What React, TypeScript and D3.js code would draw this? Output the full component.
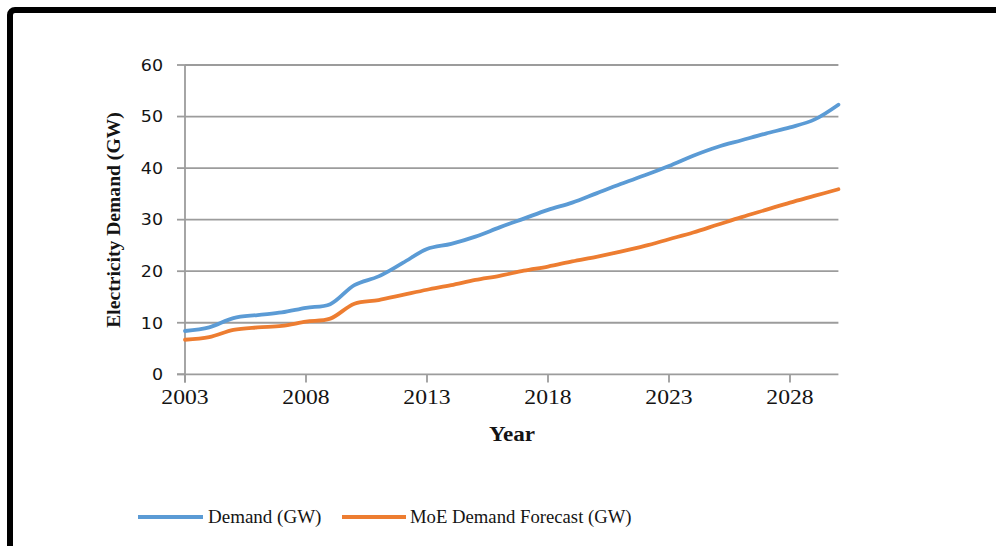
import React from "react";
import * as d3 from "d3";

const years = [2003, 2004, 2005, 2006, 2007, 2008, 2009, 2010, 2011, 2012, 2013, 2014, 2015, 2016, 2017, 2018, 2019, 2020, 2021, 2022, 2023, 2024, 2025, 2026, 2027, 2028, 2029, 2030];
const demand = [8.4, 9.1, 10.9, 11.5, 12.0, 12.9, 13.6, 17.3, 19.0, 21.6, 24.3, 25.3, 26.7, 28.5, 30.2, 31.9, 33.3, 35.1, 36.9, 38.6, 40.4, 42.4, 44.1, 45.4, 46.7, 47.9, 49.4, 52.3];
const forecast = [6.7, 7.2, 8.6, 9.1, 9.4, 10.2, 10.8, 13.7, 14.4, 15.4, 16.4, 17.3, 18.3, 19.1, 20.1, 20.9, 21.9, 22.8, 23.8, 24.9, 26.2, 27.5, 29.0, 30.5, 31.9, 33.3, 34.6, 35.9];
const xTicks = [2003, 2008, 2013, 2018, 2023, 2028];
const yTicks = [0, 10, 20, 30, 40, 50, 60];
const seriesNames = ["Demand (GW)", "MoE Demand Forecast (GW)"];
const colors = ["#5B9BD5", "#ED7D31"];

export default function App() {
  const W = 996, H = 546;
  const x = d3.scaleLinear().domain([2003, 2030]).range([185, 838.4]);
  const y = d3.scaleLinear().domain([0, 60]).range([374.3, 65]);
  const line = d3
    .line<number>()
    .x((_, i) => x(years[i]))
    .y((d) => y(d))
    .curve(d3.curveCatmullRom.alpha(0.5));
  const grid = "#9c9c9c";
  const ink = "#141414";
  const serif = "'Liberation Serif', 'Times New Roman', serif";
  const sans = "'DejaVu Sans', Verdana, sans-serif";
  return (
    <svg width={W} height={H} style={{ position: "absolute", left: 0, top: 0, background: "#fff" }}>
      <rect x={0} y={0} width={W} height={H} fill="#fff" />
      <rect x={10} y={10} width={1000} height={560} rx={5} fill="none" stroke="#000" strokeWidth={6} />
      {yTicks.map((t) => (
        <g key={"g" + t}>
          {t > 0 && <line x1={x(2003)} x2={x(2030)} y1={y(t)} y2={y(t)} stroke={grid} strokeWidth={1.8} />}
          <line x1={177} x2={x(2003)} y1={y(t)} y2={y(t)} stroke={grid} strokeWidth={1.8} />
          <g transform={`translate(163,${y(t) + 5.8}) scale(1.12,1)`}>
            <text textAnchor="end" fontFamily={sans} fontSize={15.6} fill={ink}>
              {t}
            </text>
          </g>
        </g>
      ))}
      <line x1={x(2003)} x2={x(2003)} y1={y(60)} y2={382.5} stroke={grid} strokeWidth={1.8} />
      <line x1={177} x2={x(2030)} y1={y(0)} y2={y(0)} stroke={grid} strokeWidth={1.8} />
      {xTicks.map((t) => (
        <g key={"x" + t}>
          <line x1={x(t)} x2={x(t)} y1={y(0)} y2={382.5} stroke={grid} strokeWidth={1.8} />
          <g transform={`translate(${x(t)},404) scale(1.1,1)`}>
            <text textAnchor="middle" fontFamily={serif} fontSize={21.5} fill={ink}>
              {t}
            </text>
          </g>
        </g>
      ))}
      <g transform={`translate(512,441) scale(1.1,1)`}>
        <text textAnchor="middle" fontFamily={serif} fontWeight="bold" fontSize={21} fill={ink}>
          Year
        </text>
      </g>
      <text
        transform={`translate(120,220) rotate(-90)`}
        textAnchor="middle"
        fontFamily={serif}
        fontWeight="bold"
        fontSize={19.6}
        fill={ink}
      >
        Electricity Demand (GW)
      </text>
      <path d={line(demand) || ""} fill="none" stroke={colors[0]} strokeWidth={3.8} strokeLinecap="round" />
      <path d={line(forecast) || ""} fill="none" stroke={colors[1]} strokeWidth={3.8} strokeLinecap="round" />
      <line x1={138} x2={203} y1={517} y2={517} stroke={colors[0]} strokeWidth={3.8} />
      <text x={208} y={523} fontFamily={serif} fontSize={19} fill={ink}>
        {seriesNames[0]}
      </text>
      <line x1={342} x2={406} y1={517} y2={517} stroke={colors[1]} strokeWidth={3.8} />
      <text x={410} y={523} fontFamily={serif} fontSize={18.7} fill={ink}>
        {seriesNames[1]}
      </text>
    </svg>
  );
}
